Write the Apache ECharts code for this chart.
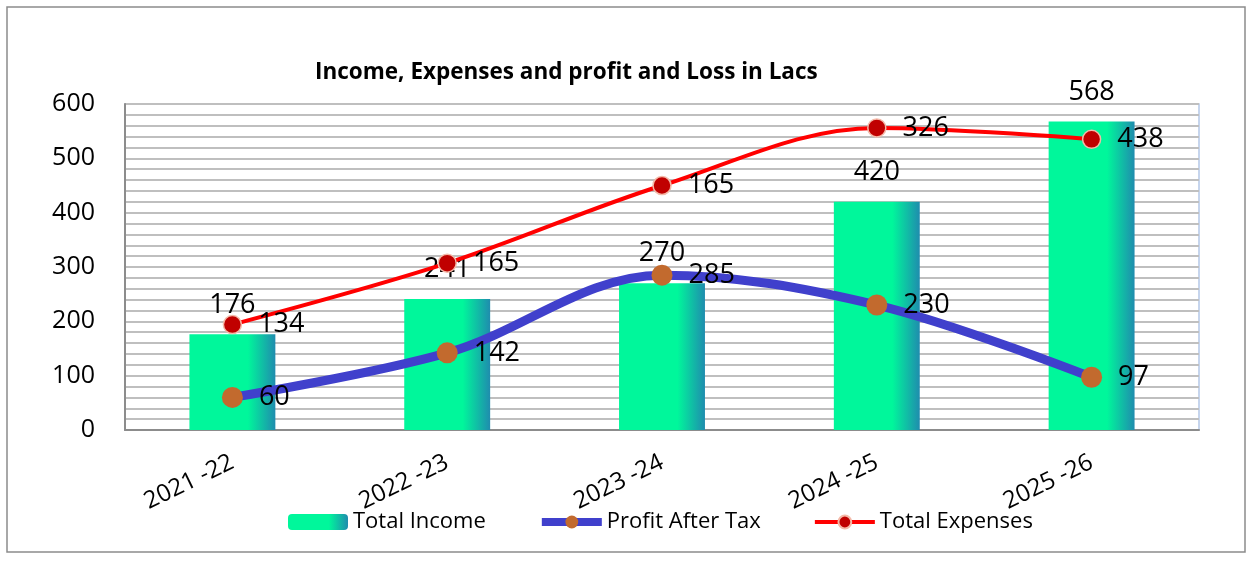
<!DOCTYPE html>
<html>
<head>
<meta charset="utf-8">
<script src="https://cdn.jsdelivr.net/npm/echarts@6/dist/echarts.min.js"></script>
<style>
    html, body { margin: 0; padding: 0; background: #fff; }
    #chart { width: 1253px; height: 562px; }
</style>
</head>
<body>
<div id="chart"></div>
<script>
    var years = ['2021 -22', '2022 -23', '2023 -24', '2024 -25', '2025 -26'];
    var totalIncome = [176, 241, 270, 420, 568];
    var profitAfterTax = [60, 142, 285, 230, 97];
    // expenses are drawn stacked on top of profit (as in the original sheet)
    var totalExpenses = [134, 165, 165, 326, 438];
    var yTicks = [0, 100, 200, 300, 400, 500, 600];

    var font = '"Open Sans", Lato, sans-serif';
    var myChart = echarts.init(document.getElementById('chart'));

    var labelStyle = {
        show: true,
        fontSize: 27,
        color: '#000',
        fontFamily: font
    };

    var option = {
        backgroundColor: '#fff',
        textStyle: { fontFamily: font, color: '#000' },
        title: {
            text: 'Income, Expenses and profit and Loss in Lacs',
            left: 310,
            top: 56,
            textStyle: { fontFamily: font, fontSize: 22.5, fontWeight: 'bold', color: '#000' }
        },
        graphic: [{
            type: 'rect',
            shape: { x: 7, y: 7, width: 1238, height: 545 },
            style: { fill: 'none', stroke: '#8c8c8c', lineWidth: 1.5 },
            silent: true
        }],
        legend: {
            bottom: 24,
            left: 283,
            itemWidth: 60,
            itemHeight: 16,
            itemGap: 52,
            textStyle: { fontFamily: font, fontSize: 22, color: '#000' },
            data: [
                { name: 'Total Income' },
                { name: 'Profit After Tax', lineStyle: { width: 8 }, itemStyle: { color: '#c26a2e' } },
                { name: 'Total Expenses', lineStyle: { width: 4 } }
            ]
        },
        grid: {
            left: 125,
            right: 54,
            top: 104,
            bottom: 132,
            show: true,
            borderColor: '#b4c7e7',
            borderWidth: 1.5
        },
        xAxis: {
            type: 'category',
            data: years,
            axisLine: { lineStyle: { color: '#8c8c8c', width: 2 } },
            axisTick: { show: false },
            axisLabel: {
                rotate: 26,
                margin: 31,
                fontSize: 24,
                color: '#000',
                fontFamily: font
            }
        },
        yAxis: {
            type: 'value',
            min: yTicks[0],
            max: yTicks[yTicks.length - 1],
            interval: 100,
            axisLine: { show: true, lineStyle: { color: '#8c8c8c', width: 2 } },
            axisTick: { show: false },
            axisLabel: { fontSize: 25, color: '#000', margin: 30, fontFamily: font },
            splitLine: { lineStyle: { color: '#bfbfbf', width: 1.8 } },
            minorTick: { show: false, splitNumber: 5 },
            minorSplitLine: { show: true, lineStyle: { color: '#bfbfbf', width: 1.8 } }
        },
        series: [{
            name: 'Total Income',
            type: 'bar',
            data: totalIncome,
            barWidth: '40%',
            itemStyle: {
                color: new echarts.graphic.LinearGradient(0, 0, 1, 0, [
                    { offset: 0, color: '#00f79b' },
                    { offset: 0.68, color: '#00f79b' },
                    { offset: 1, color: '#1f8cae' }
                ])
            },
            label: Object.assign({ position: 'top', distance: 16 }, labelStyle),
            z: 1
        }, {
            name: 'Profit After Tax',
            type: 'line',
            stack: 'pl',
            data: profitAfterTax,
            smooth: 0.35,
            symbol: 'circle',
            symbolSize: 21,
            lineStyle: { color: '#4040cc', width: 9 },
            itemStyle: { color: '#c26a2e' },
            label: Object.assign({ position: 'right', distance: 16 }, labelStyle),
            z: 3
        }, {
            name: 'Total Expenses',
            type: 'line',
            stack: 'pl',
            data: totalExpenses,
            smooth: 0.35,
            symbol: 'circle',
            symbolSize: 18,
            lineStyle: { color: '#ff0000', width: 4 },
            itemStyle: { color: '#c00000', borderColor: '#f4b9a8', borderWidth: 1.5 },
            label: Object.assign({ position: 'right', distance: 16 }, labelStyle),
            z: 4
        }]
    };

    myChart.setOption(option);
</script>
</body>
</html>
